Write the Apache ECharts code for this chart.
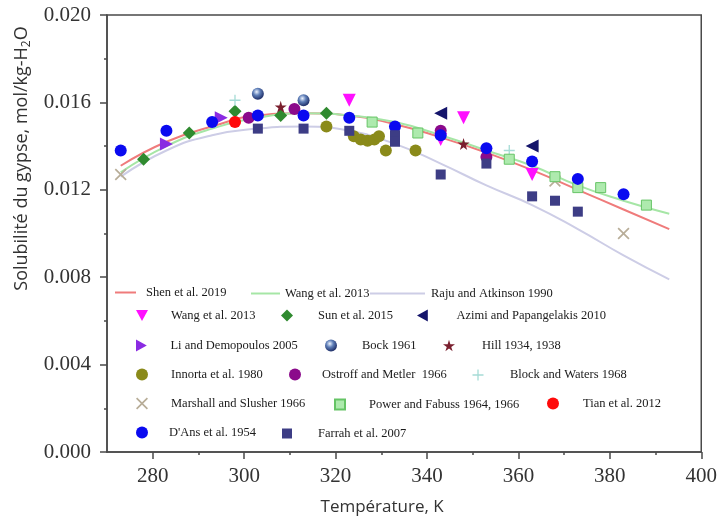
<!DOCTYPE html>
<html>
<head>
<meta charset="utf-8">
<script src="https://cdn.jsdelivr.net/npm/echarts@6/dist/echarts.min.js"></script>
<style>html,body{margin:0;padding:0;background:#fff}#c{width:720px;height:521px}</style>
</head>
<body>
<div id="c"></div>
<script>
// ---- data ----
const modelT = [273, 283, 293, 303, 313, 323, 333, 343, 353, 363, 373, 383, 393];
const shen2019 = [0.0131, 0.0142, 0.0149, 0.0154, 0.0155, 0.0154, 0.0150, 0.0144, 0.0137, 0.0129, 0.0120, 0.0111, 0.0102];
const wang2013Model = [0.0128, 0.0140, 0.0148, 0.0153, 0.0155, 0.0154, 0.0151, 0.0145, 0.0138, 0.0131, 0.0122, 0.0115, 0.0109];
const raju1990 = [0.0126, 0.0138, 0.0145, 0.0148, 0.0149, 0.0147, 0.0141, 0.0132, 0.0122, 0.0113, 0.0102, 0.0090, 0.0079];

const wang2013 = [[323,0.0161],[348,0.0153],[343,0.0143],[363,0.0127]];
const sun2015 = [[278,0.0134],[288,0.0146],[298,0.0156],[308,0.0154],[318,0.0155]];
const azimi2010 = [[343,0.0155],[363,0.0140]];
const li2005 = [[283,0.0141],[295,0.0153]];
const bock1961 = [[303,0.0164],[313,0.0161]];
const hill1934 = [[308,0.0158],[348,0.0141]];
const innorta1980 = [[318,0.0149],[324,0.01445],[325.5,0.0143],[327,0.01425],[328.5,0.0143],[329.5,0.01445],[331,0.0138],[337.5,0.0138]];
const ostroff1966 = [[301,0.0153],[311,0.0157],[343,0.0147],[353,0.0135]];
const block1968 = [[298,0.0161],[358,0.0138]];
const marshall1966 = [[273,0.0127],[368,0.0124],[383,0.0100]];
const power1964 = [[328,0.0151],[338,0.0146],[358,0.0134],[368,0.0126],[373,0.0121],[378,0.0121],[388,0.0113]];
const tian2012 = [[298,0.0151]];
const dans1954 = [[273,0.0138],[283,0.0147],[293,0.0151],[303,0.0154],[313,0.0154],[323,0.0153],[333,0.0149],[343,0.0145],[353,0.0139],[363,0.0133],[373,0.0125],[383,0.0118]];
const farrah2007 = [[303,0.0148],[313,0.0148],[323,0.0147],[333,0.0145],[333,0.0142],[343,0.0127],[353,0.0132],[363,0.0117],[368,0.0115],[373,0.0110]];

const xMajor = [280, 300, 320, 340, 360, 380, 400];
const xMinor = [290, 310, 330, 350, 370, 390];

// ---- styles ----
const STAR = 'path://M50,0 L61,35 L98,35 L68,57 L79,91 L50,70 L21,91 L32,57 L2,35 L39,35 Z';
const CROSS = 'path://M10,0 L50,40 L90,0 L100,10 L60,50 L100,90 L90,100 L50,60 L10,100 L0,90 L40,50 L0,10 Z';
const PLUS = 'path://M44,0 H56 V44 H100 V56 H56 V100 H44 V56 H0 V44 H44 Z';
const TRI_DOWN = 'path://M0,0 L100,0 L50,90 Z';
const TRI_LEFT = 'path://M90,0 L90,100 L0,50 Z';
const TRI_RIGHT = 'path://M0,0 L0,100 L90,50 Z';

const pair = (xs, ys) => xs.map((x, i) => [x, ys[i]]);

const lineDefs = [
  {name: 'Shen et al. 2019', data: pair(modelT, shen2019), color: '#ef7b7b'},
  {name: 'Wang et al. 2013 ', data: pair(modelT, wang2013Model), color: '#a6e6a6'},
  {name: 'Raju and Atkinson 1990', data: pair(modelT, raju1990), color: '#cdcde6'}
];
const lineSeries = lineDefs.map(s => ({
  type: 'line', name: s.name, data: s.data, smooth: true, symbol: 'none', showSymbol: false,
  lineStyle: {color: s.color, width: 2}, itemStyle: {color: s.color}, z: 1
}));

const scatterDefs = [
  {name: 'Wang et al. 2013', data: wang2013, symbol: TRI_DOWN, size: 13, color: '#ff10ff'},
  {name: 'Sun et al. 2015', data: sun2015, symbol: 'diamond', size: 13, color: '#2f8a2f'},
  {name: 'Azimi and Papangelakis 2010', data: azimi2010, symbol: TRI_LEFT, size: 13, color: '#15156b'},
  {name: 'Li and Demopoulos 2005', data: li2005, symbol: TRI_RIGHT, size: 13, color: '#8a2be2'},
  {name: 'Bock 1961', data: bock1961, symbol: 'circle', size: 12, color: {type: 'radial', x: 0.4, y: 0.35, r: 0.65, colorStops: [{offset: 0, color: '#eef4ff'}, {offset: 0.45, color: '#5f7fb8'}, {offset: 1, color: '#1f2f68'}]}},
  {name: 'Hill 1934, 1938', data: hill1934, symbol: STAR, size: 12, color: '#7a1f2e'},
  {name: 'Innorta et al. 1980', data: innorta1980, symbol: 'circle', size: 12, color: '#8a8a1a'},
  {name: 'Ostroff and Metler  1966', data: ostroff1966, symbol: 'circle', size: 12, color: '#8b0a8b'},
  {name: 'Block and Waters 1968', data: block1968, symbol: PLUS, size: 11, color: '#a6dcd6'},
  {name: 'Marshall and Slusher 1966', data: marshall1966, symbol: CROSS, size: 12, color: '#b8ad98'},
  {name: 'Power and Fabuss 1964, 1966', data: power1964, symbol: 'rect', size: 10, color: '#aeeaae', border: '#66c466'},
  {name: 'Tian et al. 2012', data: tian2012, symbol: 'circle', size: 12, color: '#ff0a0a'},
  {name: "D'Ans et al. 1954", data: dans1954, symbol: 'circle', size: 12, color: '#0a0af0'},
  {name: 'Farrah et al. 2007', data: farrah2007, symbol: 'rect', size: 10, color: '#3d3d85'}
];
const scatterSeries = scatterDefs.map((s, i) => ({
  type: 'scatter', name: s.name, data: s.data, symbol: s.symbol, symbolSize: s.size,
  itemStyle: {color: s.color, borderColor: s.border || null, borderWidth: s.border ? 1 : 0, opacity: 1},
  z: 2 + i * 0.01
}));

// legend layout: [name, icon centre x, row centre y, text start x, line icon width]
const legendLayout = [
  ['Shen et al. 2019', 125.5, 287, 146, 21],
  ['Wang et al. 2013 ', 265.5, 288, 285, 29],
  ['Raju and Atkinson 1990', 397.5, 288, 431, 55],
  ['Wang et al. 2013', 142, 315, 171],
  ['Sun et al. 2015', 287, 315, 318],
  ['Azimi and Papangelakis 2010', 423, 315, 457],
  ['Li and Demopoulos 2005', 142, 345, 171],
  ['Bock 1961', 331, 345, 362],
  ['Hill 1934, 1938', 449, 345, 482],
  ['Innorta et al. 1980', 142, 374, 171],
  ['Ostroff and Metler  1966', 295, 374, 322],
  ['Block and Waters 1968', 478, 374, 510],
  ['Marshall and Slusher 1966', 142, 403, 171],
  ['Power and Fabuss 1964, 1966', 339, 403, 368],
  ['Tian et al. 2012', 553, 403, 583],
  ["D'Ans et al. 1954", 142, 432, 169],
  ['Farrah et al. 2007', 287, 432, 318]
];
const legendText = {fontFamily: 'Liberation Serif', fontSize: 12.5, color: '#1a1a1a'};
const legends = legendLayout.map(([name, cx, cy, tx, lw]) => {
  if (lw) {
    const left = cx - lw / 2;
    const pad = Math.max(0, tx - (left + lw + 5));
    return {
      data: [{name: name, icon: 'rect'}], left: left, top: cy - 1, padding: 0,
      itemWidth: lw, itemHeight: 2, selectedMode: false,
      textStyle: Object.assign({padding: [0, 0, 0, pad]}, legendText)
    };
  }
  const def = scatterDefs.find(d => d.name === name);
  const s = Math.min(def.size, 12);
  const pad = Math.max(0, tx - (cx + s / 2 + 5));
  return {
    data: [name], left: cx - s / 2, top: cy - s / 2, padding: 0,
    itemWidth: s, itemHeight: s, selectedMode: false,
    textStyle: Object.assign({padding: [0, 0, 0, pad]}, legendText)
  };
});

const axisColor = '#4a4a4a';
const option = {
  animation: false,
  backgroundColor: '#fff',
  grid: {left: 107, right: 17, top: 15, bottom: 65, show: true, borderColor: axisColor, borderWidth: 1.5, backgroundColor: 'transparent'},
  legend: legends,
  xAxis: [{
    type: 'value', min: 270, max: 400, interval: 10,
    name: 'Température, K', nameLocation: 'middle', nameGap: 47,
    nameTextStyle: {fontFamily: 'Open Sans', fontSize: 17, color: '#333', padding: [0, 44, 0, 0]},
    axisLine: {show: true, lineStyle: {color: axisColor, width: 1.5}},
    axisTick: {show: true, length: 7, lineStyle: {color: axisColor, width: 1.5}, customValues: xMajor},
    axisLabel: {customValues: xMajor, margin: 14, fontFamily: 'Liberation Serif', fontSize: 21, color: '#333'},
    splitLine: {show: false}
  }, {
    type: 'value', min: 270, max: 400, interval: 10, position: 'bottom',
    axisLine: {show: false},
    axisTick: {show: true, length: 3, lineStyle: {color: axisColor, width: 1.5}, customValues: xMinor},
    axisLabel: {show: false}, splitLine: {show: false}
  }],
  yAxis: {
    type: 'value', min: 0, max: 0.020, interval: 0.004,
    name: '{a|Solubilité du gypse, mol/kg-H}{b|2}{a|O}', nameLocation: 'middle', nameGap: 74,
    nameTextStyle: {padding: [0, 0, 0, 150], rich: {
      a: {fontFamily: 'Open Sans', fontSize: 18, color: '#333'},
      b: {fontFamily: 'Open Sans', fontSize: 12, color: '#333', verticalAlign: 'bottom', padding: [0, 0, -2, 0]}
    }},
    axisLine: {show: true, lineStyle: {color: axisColor, width: 1.5}},
    axisTick: {show: true, length: 7, lineStyle: {color: axisColor, width: 1.5}},
    minorTick: {show: true, splitNumber: 2, length: 3, lineStyle: {color: axisColor, width: 1.5}},
    axisLabel: {margin: 16, fontFamily: 'Liberation Serif', fontSize: 21, color: '#333', formatter: v => v.toFixed(3)},
    splitLine: {show: false}
  },
  series: lineSeries.concat(scatterSeries)
};
const chart = echarts.init(document.getElementById('c'), null, {renderer: 'canvas'});
chart.setOption(option);
</script>
</body>
</html>
